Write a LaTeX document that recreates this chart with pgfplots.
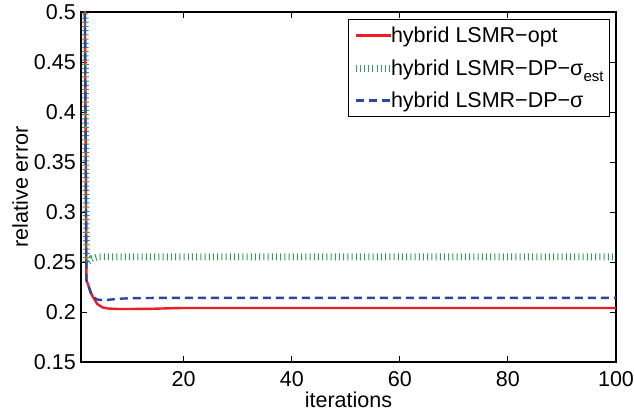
\documentclass[border=0pt]{standalone}
\usepackage{fontspec}
\setmainfont{Liberation Sans}
\usepackage{pgfplots}
\pgfplotsset{compat=1.18}
\definecolor{myred}{RGB}{235,30,35}
\definecolor{myblue}{RGB}{45,70,160}
\definecolor{mygreen}{RGB}{60,155,90}
\newcommand{\F}{\fontsize{21.5bp}{26bp}\selectfont}
\begin{document}
\begin{tikzpicture}
\path[use as bounding box] (0,0) rectangle (634bp,412bp);
\begin{axis}[
  at={(81bp,50bp)}, anchor=south west,
  scale only axis, width=535bp, height=350bp,
  xmin=1, xmax=100, ymin=0.15, ymax=0.5,
  xtick={20,40,60,80,100}, xticklabels={20,40,60,80,100},
  ytick={0.15,0.2,0.25,0.3,0.35,0.4,0.45,0.5},
  yticklabels={0.15,0.2,0.25,0.3,0.35,0.4,0.45,0.5},
  tick align=inside, major tick length=6bp,
  axis line style={line width=1.1bp},
  every tick/.style={black, line width=0.9bp},
  xticklabel style={font=\F, inner sep=0pt, anchor=base, yshift=-25bp},
  yticklabel style={font=\F, inner sep=0pt, anchor=east, xshift=-5bp},
  xlabel={iterations}, ylabel={relative error},
  xlabel style={font=\F, inner sep=0pt, at={(axis description cs:0.5,0)}, anchor=base, yshift=-45bp},
  ylabel style={font=\F, inner sep=0pt, at={(axis description cs:0,0.5)}, anchor=base, yshift=53bp},
  legend style={font=\F, at={(axis description cs:1,1)}, anchor=north east,
    xshift=-6bp, yshift=-7bp, draw=black, line width=0.9bp,
    inner xsep=4bp, inner ysep=5.5bp, row sep=11.5bp, column sep=0pt,
    cells={anchor=west},
    nodes={inner xsep=2bp}},
  legend image code/.code={\draw[#1] (0bp,0bp) -- (35bp,0bp);},
]
\addplot[myred, line width=2.4bp] coordinates {
(1,1.2) (2,0.232) (3,0.217) (4,0.208) (5,0.2045) (6,0.2035) (8,0.203) (10,0.203)
(14,0.2032) (18,0.2038) (20,0.204) (30,0.204) (100,0.204)};
\addlegendentry{\hspace*{-5bp}hybrid LSMR−opt}
\addplot[mygreen, line width=7bp, dash pattern=on 1bp off 3.2bp] coordinates {
(1,1.2) (2,0.249) (3,0.2535) (4,0.255) (10,0.255) (100,0.255)};
\addlegendentry{\hspace*{-5bp}hybrid LSMR−DP−σ\raisebox{-0.3em}{\fontsize{15bp}{15bp}\selectfont est}}
\addplot[myblue, line width=2.4bp, dash pattern=on 8bp off 5bp] coordinates {
(1,1.2) (2,0.232) (3,0.216) (4,0.2125) (5,0.2118) (6,0.2122) (8,0.2132) (10,0.2138)
(15,0.2141) (100,0.2142)};
\addlegendentry{\hspace*{-5bp}hybrid LSMR−DP−σ}
\end{axis}
\end{tikzpicture}
\end{document}
